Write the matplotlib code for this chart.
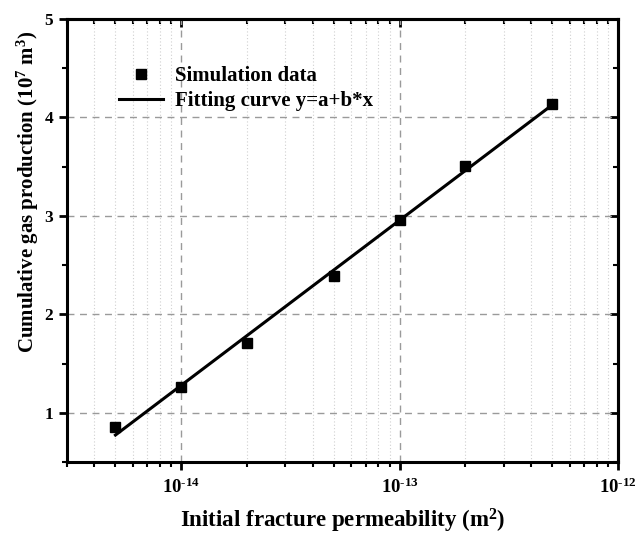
import numpy as np
import matplotlib
matplotlib.use("Agg")
import matplotlib.pyplot as plt
from matplotlib.ticker import (LogLocator, MultipleLocator, FixedLocator,
                               NullFormatter, FuncFormatter)

# Initial fracture permeability (m^2) and cumulative gas production (10^7 m^3)
permeability = [5e-15, 1e-14, 2e-14, 5e-14, 1e-13, 2e-13, 5e-13]
production = [0.86, 1.26, 1.71, 2.39, 2.96, 3.51, 4.14]
x_major_ticks = [1e-14, 1e-13, 1e-12]

plt.rcParams["font.family"] = ["Liberation Serif", "DejaVu Serif"]
plt.rcParams["font.weight"] = "bold"
plt.rcParams["mathtext.fontset"] = "custom"
plt.rcParams["mathtext.rm"] = "Liberation Serif:bold"
plt.rcParams["mathtext.it"] = "Liberation Serif:bold"
plt.rcParams["mathtext.bf"] = "Liberation Serif:bold"

fig = plt.figure(figsize=(6.36, 5.35), dpi=100)
ax = fig.add_axes([67 / 636, 73 / 535, 551 / 636, 443 / 535])

# linear fit of production against log10(permeability)
lx = np.log10(permeability)
b, a = np.polyfit(lx, production, 1)
xfit = np.array([min(permeability), max(permeability)])
yfit = a + b * np.log10(xfit)

ax.plot(xfit, yfit, color="black", lw=2.2, label="Fitting curve y=a+b*x", zorder=3)
ax.plot(permeability, production, ls="none", marker="s", ms=7, color="black",
        label="Simulation data", zorder=4)

ax.set_xscale("log")
ax.set_xlim(3e-15, 1e-12)
ax.set_ylim(0.5, 5)


def pow10_label(v, pos):
    e = int(round(np.log10(v)))
    return r"10$^{\text{%d}}$" % e


ax.xaxis.set_major_locator(FixedLocator(x_major_ticks))
ax.xaxis.set_major_formatter(FuncFormatter(pow10_label))
ax.xaxis.set_minor_locator(LogLocator(base=10, subs=np.arange(2, 10), numticks=20))
ax.xaxis.set_minor_formatter(NullFormatter())
ax.yaxis.set_major_locator(MultipleLocator(1))
ax.yaxis.set_minor_locator(MultipleLocator(0.5))

ax.grid(True, which="major", axis="both", ls=(0, (5, 4)), color="#9a9a9a", lw=1.0)
ax.grid(True, which="minor", axis="x", ls=(0, (1, 2)), color="#d0d0d0", lw=0.8)
ax.set_axisbelow(True)

for s in ax.spines.values():
    s.set_linewidth(2.2)

ax.tick_params(which="major", direction="out", length=6, width=2, labelsize=12.5, pad=4)
ax.tick_params(which="minor", direction="out", length=3.5, width=1.5)
ax.tick_params(axis="x", which="major", labelsize=13.5, pad=5)

# mirrored ticks on top/right pointing inward
top = ax.secondary_xaxis("top")
top.xaxis.set_major_locator(FixedLocator(x_major_ticks))
top.xaxis.set_minor_locator(LogLocator(base=10, subs=np.arange(2, 10), numticks=20))
top.tick_params(which="major", direction="in", length=6, width=2, labeltop=False)
top.tick_params(which="minor", direction="in", length=3.5, width=1.5, labeltop=False)
top.xaxis.set_minor_formatter(NullFormatter())
top.spines["top"].set_linewidth(2.2)

right = ax.secondary_yaxis("right")
right.yaxis.set_major_locator(MultipleLocator(1))
right.yaxis.set_minor_locator(MultipleLocator(0.5))
right.tick_params(which="major", direction="in", length=6, width=2, labelright=False)
right.tick_params(which="minor", direction="in", length=3.5, width=1.5, labelright=False)
right.spines["right"].set_linewidth(2.2)

ax.set_xlabel(r"Initial fracture permeability (m$^{2}$)", fontsize=16.5,
              fontweight="bold", labelpad=7)
ax.set_ylabel(r"Cumulative gas production (10$^{7}$ m$^{3}$)", fontsize=15,
              fontweight="bold")
ax.yaxis.set_label_coords(-0.048, 0.61)

handles, labels = ax.get_legend_handles_labels()
ax.legend(handles[::-1], labels[::-1], loc="upper left", bbox_to_anchor=(0.08, 0.913),
          frameon=False, handlelength=2.1, handletextpad=0.55,
          labelspacing=0.25, borderaxespad=0, prop={"weight": "bold", "size": 15})

fig.savefig("out.png", dpi=100)
